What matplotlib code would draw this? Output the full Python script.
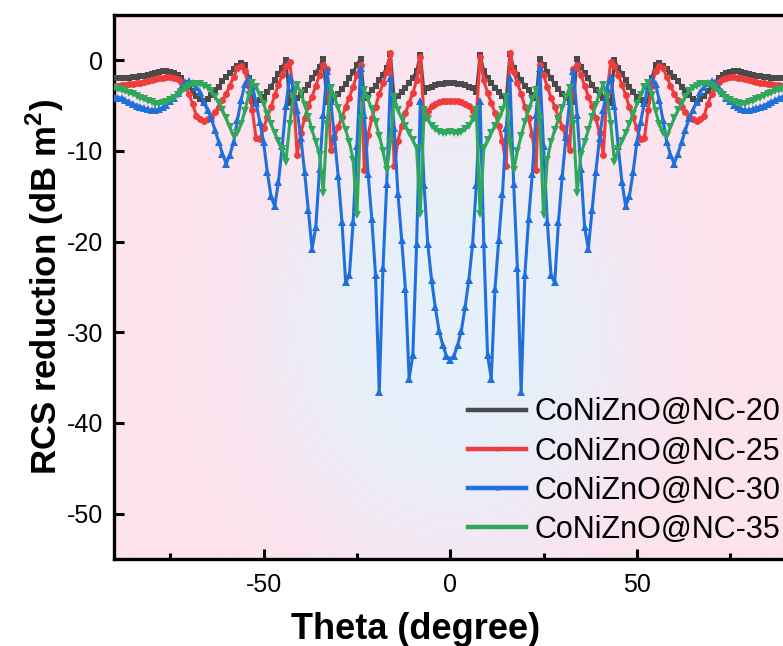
import numpy as np
import matplotlib
matplotlib.use("Agg")
import matplotlib.pyplot as plt

plt.rcParams.update({
    "font.family": ["Liberation Sans", "DejaVu Sans"],
    "mathtext.fontset": "custom",
    "mathtext.rm": "Liberation Sans",
    "mathtext.bf": "Liberation Sans:bold",
    "axes.unicode_minus": False,
})

# scan angle, data symmetric about 0 -> values read for 0..90 deg, mirrored
theta = np.arange(-90, 91)

nc20_half = [
    -2.5, -2.5, -2.6, -2.6, -2.7, -2.9, -3.1, -3.5, 0.6, -1.2,
    -1.9, -2.5, -3.0, -3.5, -3.9, -4.3, 0.7, -0.8, -1.6, -2.2,
    -2.8, -3.3, -3.8, -4.2, 0.2, -0.5, -1.3, -2.0, -2.6, -3.2,
    -3.7, -4.1, -4.4, -4.6, 0.2, -0.7, -1.4, -2.0, -2.7, -3.3,
    -3.8, -4.2, -4.5, -4.7, 0.0, -0.8, -1.5, -2.2, -2.9, -3.5,
    -4.0, -4.4, -4.7, -4.5, -2.0, -0.5, -0.3, -0.6, -1.0, -1.4,
    -1.8, -2.3, -2.9, -3.3, -3.8, -4.3, -4.5, -4.3, -3.9, -3.4,
    -2.9, -2.5, -2.0, -1.6, -1.4, -1.3, -1.2, -1.2, -1.3, -1.4,
    -1.5, -1.6, -1.7, -1.75, -1.8, -1.85, -1.9, -1.9, -1.95, -2.0,
    -2.0,
]
nc25_half = [
    -4.5, -4.5, -4.5, -4.6, -4.8, -5.0, -5.6, -6.4, 0.4, -2.2,
    -3.6, -4.7, -5.8, -7.2, -8.9, -11.7, 0.8, -1.3, -2.5, -3.7,
    -5.1, -6.4, -8.2, -12.1, -0.5, -1.6, -2.9, -4.1, -5.1, -6.3,
    -7.3, -8.5, -9.9, -1.0, -0.5, -1.6, -2.8, -4.0, -5.0, -6.4,
    -8.0, -10.4, -3.5, -0.2, -0.6, -1.6, -2.7, -3.8, -5.2, -6.3,
    -7.5, -8.7, -8.6, -5.5, -2.8, -1.2, -0.6, -0.9, -1.8, -2.8,
    -3.7, -4.4, -5.1, -5.7, -6.2, -6.5, -6.7, -6.5, -6.1, -4.8,
    -3.7, -2.9, -2.4, -2.1, -1.9, -1.8, -1.8, -1.9, -2.0, -2.1,
    -2.2, -2.3, -2.4, -2.5, -2.5, -2.6, -2.6, -2.7, -2.7, -2.8,
    -2.8,
]
nc30_half = [
    -33.0, -32.6, -31.4, -29.8, -27.2, -24.2, -20.3, -13.7, -4.5, -20.3,
    -32.5, -35.1, -25.2, -19.8, -14.7, -7.5, -2.0, -13.6, -22.9, -36.6,
    -23.7, -17.5, -12.5, -6.0, -0.9, -9.5, -17.8, -23.7, -24.5, -17.8,
    -12.8, -8.5, -4.5, -1.2, -6.0, -12.0, -18.4, -20.8, -16.5, -12.3,
    -8.6, -5.5, -3.0, -1.8, -5.0, -9.5, -13.4, -16.1, -15.0, -12.3,
    -9.0, -6.8, -4.7, -2.8, -2.0, -2.6, -4.4, -6.6, -9.0, -10.4,
    -11.4, -10.3, -9.0, -7.7, -6.4, -5.5, -4.6, -3.5, -2.9, -2.5,
    -2.3, -2.4, -3.0, -3.6, -4.1, -4.5, -4.9, -5.2, -5.4, -5.5,
    -5.5, -5.4, -5.3, -5.1, -5.0, -4.8, -4.6, -4.4, -4.2, -4.1,
    -4.0,
]
nc35_half = [
    -7.9, -8.0, -8.0, -7.9, -7.6, -7.2, -6.5, -5.5, -17.0, -9.7,
    -8.8, -8.0, -7.2, -6.4, -5.5, -4.0, -9.0, -12.1, -10.0, -8.3,
    -6.8, -5.4, -4.3, -3.3, -6.5, -17.1, -11.0, -9.0, -7.7, -6.5,
    -5.3, -4.0, -3.0, -7.0, -14.6, -10.4, -9.0, -7.7, -6.2, -4.9,
    -3.6, -2.7, -4.0, -7.0, -11.2, -9.8, -8.9, -8.0, -7.0, -5.9,
    -4.8, -3.8, -2.9, -2.5, -3.8, -5.6, -7.0, -8.0, -8.4, -7.4,
    -6.4, -5.5, -4.7, -4.0, -3.4, -3.0, -2.8, -2.6, -2.6, -2.6,
    -2.8, -3.1, -3.5, -3.8, -4.1, -4.4, -4.6, -4.7, -4.8, -4.8,
    -4.6, -4.5, -4.3, -4.1, -3.9, -3.7, -3.6, -3.4, -3.3, -3.2,
    -3.1,
]

labels = ["CoNiZnO@NC-20", "CoNiZnO@NC-25", "CoNiZnO@NC-30", "CoNiZnO@NC-35"]
colors = ["#4a4a4a", "#ee3b3b", "#1f6fdc", "#2fa85c"]
markers = ["s", "o", "^", "v"]
msizes = [4.4, 5.0, 5.6, 5.6]


def mirror(half):
    half = np.asarray(half, dtype=float)
    return np.concatenate([half[:0:-1], half])


def gradient_bg(ax):
    # pink edges fading to pale blue in the middle of the axes
    ny, nx = 300, 400
    yy, xx = np.mgrid[0:1:ny * 1j, 0:1:nx * 1j]
    r = np.sqrt(((xx - 0.5) / 0.42) ** 2 + ((yy - 0.42) / 0.62) ** 2)
    t = np.clip((r - 0.25) / 0.7, 0, 1)
    t = t * t * (3 - 2 * t)
    inner = np.array([230, 240, 250]) / 255
    outer = np.array([252, 227, 238]) / 255
    img = inner + (outer - inner) * t[..., None]
    ax.imshow(img, extent=[0, 1, 0, 1], transform=ax.transAxes, origin="lower",
              aspect="auto", zorder=0, interpolation="bilinear")


fig = plt.figure(figsize=(7.83, 6.46), dpi=100)
ax = fig.add_axes([114.2 / 783, 1 - 559 / 646, 672 / 783, 544 / 646])
gradient_bg(ax)

series = [nc20_half, nc25_half, nc30_half, nc35_half]
for vals, lab, c, m, ms in zip(series, labels, colors, markers, msizes):
    ax.plot(theta, mirror(vals), color=c, lw=2.2, marker=m, ms=ms,
            markeredgewidth=0, label=lab, zorder=3)

ax.set_autoscale_on(False)
ax.set_xlim(-90, 90)
ax.set_ylim(-55, 5)
ax.set_xticks([-50, 0, 50])
ax.set_xticks([-75, -25, 25, 75], minor=True)
ax.set_yticks([0, -10, -20, -30, -40, -50])
ax.tick_params(which="major", direction="in", length=7, width=2.2, labelsize=18)
ax.tick_params(axis="x", which="major", pad=10)
ax.tick_params(axis="y", which="major", pad=8)
ax.tick_params(which="minor", direction="in", length=4, width=2.2)
for sp in ax.spines.values():
    sp.set_linewidth(2.4)

ax.set_xlabel("Theta (degree)", fontsize=26, fontweight="bold", va="top")
ax.xaxis.set_label_coords(0.448, -0.097)
ax.set_ylabel(r"RCS reduction (dB m$^\mathbf{2}$)", fontsize=25, fontweight="bold")
ax.yaxis.set_label_coords(-0.072, 0.5)

leg = ax.legend(loc="lower right", bbox_to_anchor=(0.992, 0.026), frameon=False,
                fontsize=22, handlelength=1.9, handletextpad=0.3,
                labelspacing=0.3, borderpad=0, borderaxespad=0)
for ln in leg.get_lines():
    ln.set_linewidth(3.2)
    ln.set_markersize(3)

fig.savefig("out.png", dpi=100)
